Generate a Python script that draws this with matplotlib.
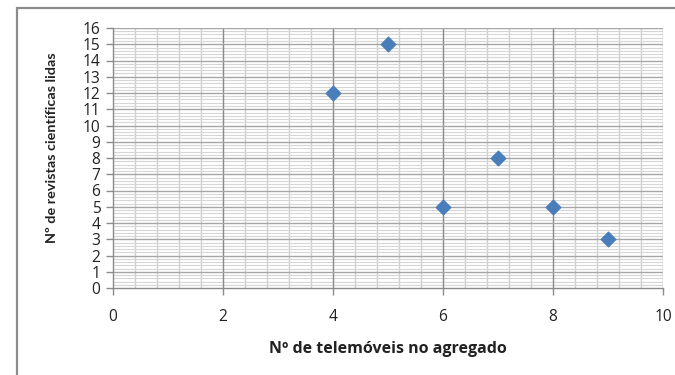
import matplotlib
matplotlib.use("Agg")
import matplotlib.pyplot as plt
from matplotlib.patches import Rectangle
import numpy as np

# Data: phones in the household vs. scientific journals read
telemoveis = [4, 5, 6, 7, 8, 9]
revistas = [12, 15, 5, 8, 5, 3]

x_ticks = [0, 2, 4, 6, 8, 10]
y_ticks = list(range(0, 17))

plt.rcParams['font.family'] = ['Open Sans', 'DejaVu Sans']

fig = plt.figure(figsize=(6.75, 3.75), dpi=100)
fig.patch.set_facecolor('white')

# outer chart frame
fig.add_artist(Rectangle((17 / 675, -0.05), 1.2, 1 - 8 / 375 + 0.05,
                         transform=fig.transFigure, fill=False,
                         edgecolor='#8c8c8c', linewidth=1.6))

ax = fig.add_axes([113 / 675, 1 - 288 / 375, (663 - 113) / 675, (288 - 28) / 375])

ax.set_xlim(0, 10)
ax.set_ylim(0, 16)

# minor gridlines
for xv in np.arange(0, 10.001, 0.4):
    if not np.isclose(xv % 2, 0) and not np.isclose(xv % 2, 2):
        ax.axvline(xv, color='#cfcfcf', linewidth=1.0, zorder=0)
for yv in np.arange(0, 16.001, 0.2):
    if not np.isclose(yv % 1, 0) and not np.isclose(yv % 1, 1):
        ax.axhline(yv, color='#d6d6d6', linewidth=0.8, zorder=0)
# major gridlines
for xv in x_ticks[1:-1]:
    ax.axvline(xv, color='#8a8a8a', linewidth=1.0, zorder=1)
for yv in y_ticks[1:]:
    ax.axhline(yv, color='#a6a6a6', linewidth=1.0, zorder=1)
ax.axvline(10, color='#a6a6a6', linewidth=1.0, zorder=1)

ax.scatter(telemoveis, revistas, marker='D', s=55, color='#4a7ebb',
           edgecolors='#4a7ebb', zorder=3)

ax.set_xticks(x_ticks)
ax.set_yticks(y_ticks)
ax.set_xticklabels([str(v) for v in x_ticks], fontsize=11.2, color='#222222')
ax.set_yticklabels([str(v) for v in y_ticks], fontsize=11.2, color='#222222')
ax.tick_params(axis='x', direction='out', length=5, width=1, color='#8a8a8a', pad=10)
ax.tick_params(axis='y', direction='out', length=5, width=1, color='#8a8a8a', pad=4)

for side in ['top', 'right']:
    ax.spines[side].set_visible(False)
for side in ['left', 'bottom']:
    ax.spines[side].set_color('#8a8a8a')
    ax.spines[side].set_linewidth(1.0)

ax.set_xlabel('Nº de telemóveis no agregado', fontsize=11.5, fontweight='bold',
              color='#222222')
ax.xaxis.set_label_coords(0.499, -0.205)
ax.set_ylabel('Nº de revistas científicas lidas', family=['Lato', 'DejaVu Sans'],
              fontsize=10.4, fontweight='bold', color='#222222')
ax.yaxis.set_label_coords(-0.10, 0.54)

fig.savefig('out.png', dpi=100, facecolor='white')
